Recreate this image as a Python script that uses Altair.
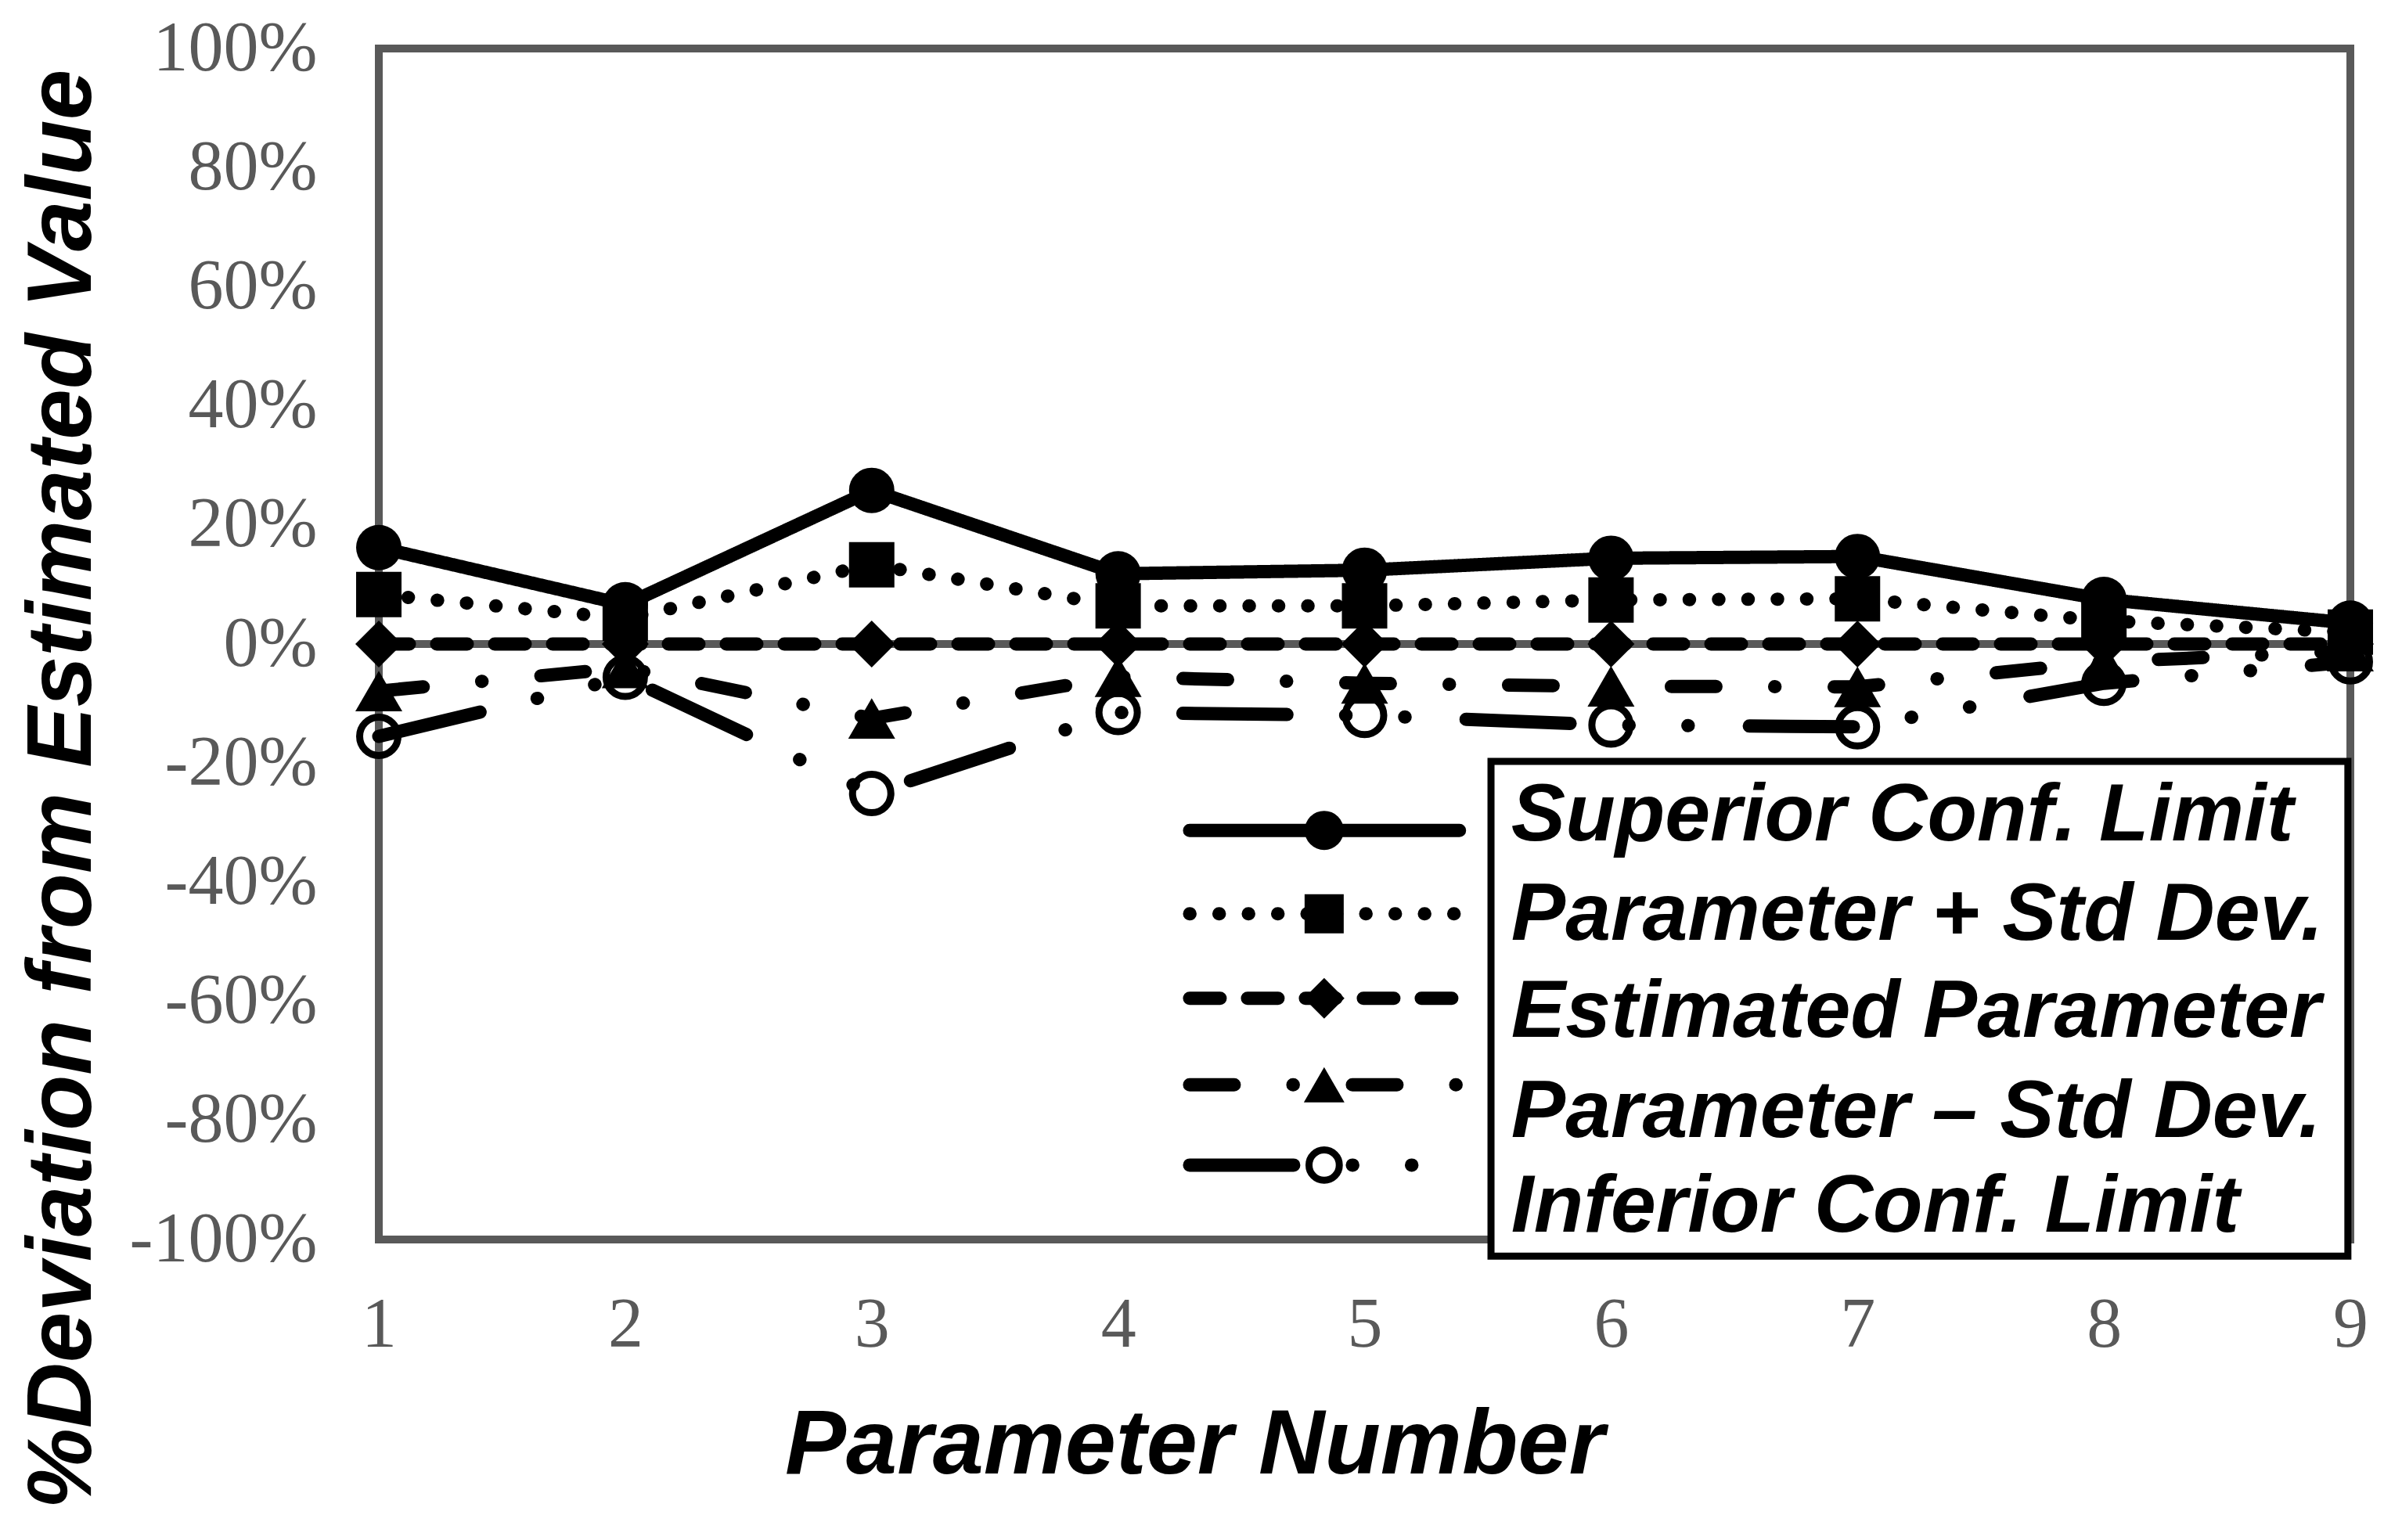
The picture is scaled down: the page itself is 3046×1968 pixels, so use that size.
import altair as alt
import pandas as pd

# ---------------- data ----------------
param_numbers = [1, 2, 3, 4, 5, 6, 7, 8, 9]
series_names = [
    "Superior Conf. Limit",
    "Parameter + Std Dev.",
    "Estimated Parameter",
    "Parameter \u2013 Std Dev.",
    "Inferior Conf. Limit",
]
superior_limit = [16.2, 6.6, 25.8, 11.8, 12.4, 14.4, 14.7, 7.5, 3.5]
param_plus_std = [8.3, 4.3, 13.3, 6.4, 6.4, 7.4, 7.6, 3.9, 2.0]
estimated_param = [0, 0, 0, 0, 0, 0, 0, 0, 0]
param_minus_std = [-7.9, -4.0, -12.5, -5.5, -6.6, -7.1, -7.2, -3.0, -1.2]
inferior_limit = [-15.5, -5.6, -25.1, -11.5, -12.0, -13.6, -13.9, -6.6, -3.0]
series_values = [superior_limit, param_plus_std, estimated_param, param_minus_std, inferior_limit]
y_tick_values = [-100, -80, -60, -40, -20, 0, 20, 40, 60, 80, 100]

# ---------------- styles ----------------
LINE_W = 17
styles = [
    dict(dash=[1, 0], shape="circle", filled=True, size=3364, lsize=2500, sw=0),
    dict(dash=[0.5, 37], shape="square", filled=True, size=3364, lsize=2500, sw=0),
    dict(dash=[39, 35], shape="diamond", filled=True, size=3600, lsize=2700, sw=0),
    dict(dash=[57, 75, 0.5, 75.5], shape="triangle-up", filled=True, size=3600, lsize=2700, sw=0),
    dict(dash=[133, 75, 0.5, 75, 0.5, 78], shape="circle", filled=False, size=2401, lsize=1500, sw=9),
]
GRAY = "#595959"

# legend layout (in data units of the plot)
LEG_SYM_X0, LEG_SYM_X1, LEG_SYM_XM = 4.29, 5.385, 4.836
LEG_SYM_Y = [-31.3, -45.3, -59.5, -74.0, -87.5]
LEG_TXT_X = 5.595
LEG_TXT_Y = [-33.0, -49.7, -66.0, -82.8, -98.7]
LEG_BOX = dict(x0=5.513, x1=8.99, y0=-19.7, y1=-102.8)

x_scale = alt.Scale(domain=[1, 9], nice=False, zero=False)
y_scale = alt.Scale(domain=[-100, 100], nice=False, zero=False)

x_axis = alt.Axis(
    values=param_numbers, format="d", title="Parameter Number", grid=False,
    ticks=False, tickSize=0, domain=False, labelFlush=False, labelOverlap=False,
    labelLimit=0,
    labelFont="Liberation Serif", labelFontSize=90, labelColor=GRAY, labelPadding=65,
    titleFont="Liberation Sans", titleFontSize=117, titleFontStyle="italic",
    titleFontWeight="bold", titleColor="black",
    titleX=1042, titleY=298, titleAlign="center", titleBaseline="alphabetic",
    titleLimit=0,
)
y_axis = alt.Axis(
    values=y_tick_values, labelExpr="datum.value + '%'",
    title="%Deviation from Estimated Value", grid=False,
    ticks=False, tickSize=0, domain=False, labelFlush=False, labelOverlap=False,
    labelLimit=0,
    labelFont="Liberation Serif", labelFontSize=90, labelColor=GRAY, labelPadding=79,
    labelBaseline="middle",
    titleFont="Liberation Sans", titleFontSize=116, titleFontStyle="italic",
    titleFontWeight="bold", titleColor="black",
    titleX=-369, titleY=946, titleAngle=270, titleAlign="center", titleBaseline="alphabetic",
    titleLimit=0,
)

layers = []

# zero line (horizontal axis crossing at 0)
zero_line = alt.Chart(pd.DataFrame({"z": [0]})).mark_rule(color=GRAY, strokeWidth=10).encode(
    y=alt.Y("z:Q", scale=y_scale, axis=y_axis)
)
layers.append(zero_line)

frames = []
for name, vals in zip(series_names, series_values):
    frames.append(pd.DataFrame({"param": param_numbers, "value": vals, "series": name}))

# lines
for df, st in zip(frames, styles):
    layers.append(
        alt.Chart(df).mark_line(
            color="black", strokeWidth=LINE_W, strokeDash=st["dash"],
            strokeCap="round", strokeJoin="round",
        ).encode(
            x=alt.X("param:Q", scale=x_scale, axis=x_axis),
            y=alt.Y("value:Q", scale=y_scale, axis=y_axis),
        )
    )

# markers
for df, st in zip(frames, styles):
    kw = dict(shape=st["shape"], size=st["size"], opacity=1)
    if st["filled"]:
        kw.update(filled=True, color="black")
    else:
        kw.update(filled=False, color="black", strokeWidth=st["sw"])
    layers.append(
        alt.Chart(df).mark_point(**kw).encode(
            x=alt.X("param:Q", scale=x_scale, axis=x_axis),
            y=alt.Y("value:Q", scale=y_scale, axis=y_axis),
        )
    )

# legend box
box_df = pd.DataFrame([LEG_BOX])
layers.append(
    alt.Chart(box_df).mark_rect(fill="white", stroke="black", strokeWidth=9).encode(
        x=alt.X("x0:Q", scale=x_scale, axis=x_axis),
        x2="x1:Q",
        y=alt.Y("y0:Q", scale=y_scale, axis=y_axis),
        y2="y1:Q",
    )
)

# legend symbols + labels
for i, (name, st) in enumerate(zip(series_names, styles)):
    ldf = pd.DataFrame({
        "x0": [LEG_SYM_X0], "x1": [LEG_SYM_X1], "xm": [LEG_SYM_XM],
        "ys": [LEG_SYM_Y[i]], "xt": [LEG_TXT_X], "yt": [LEG_TXT_Y[i]], "label": [name],
    })
    layers.append(
        alt.Chart(ldf).mark_rule(
            color="black", strokeWidth=LINE_W, strokeDash=st["dash"], strokeCap="round",
        ).encode(
            x=alt.X("x0:Q", scale=x_scale, axis=x_axis), x2="x1:Q",
            y=alt.Y("ys:Q", scale=y_scale, axis=y_axis),
        )
    )
    kw = dict(shape=st["shape"], size=st["lsize"], opacity=1)
    if st["filled"]:
        kw.update(filled=True, color="black")
    else:
        kw.update(filled=False, color="black", strokeWidth=st["sw"])
    layers.append(
        alt.Chart(ldf).mark_point(**kw).encode(
            x=alt.X("xm:Q", scale=x_scale, axis=x_axis),
            y=alt.Y("ys:Q", scale=y_scale, axis=y_axis),
        )
    )
    layers.append(
        alt.Chart(ldf).mark_text(
            align="left", baseline="alphabetic", font="Liberation Sans",
            fontSize=104, fontStyle="italic", fontWeight="bold", color="black",
        ).encode(
            x=alt.X("xt:Q", scale=x_scale, axis=x_axis),
            y=alt.Y("yt:Q", scale=y_scale, axis=y_axis),
            text="label:N",
        )
    )

chart = alt.layer(*layers).properties(
    width=2519,
    height=1522,
    padding={"left": 476, "top": 54, "right": 30, "bottom": 360},
    autosize=alt.AutoSizeParams(type="none"),
    background="white",
).configure_view(
    stroke=GRAY, strokeWidth=10,
)

chart.save("out.html", embed_options={"renderer": "svg", "actions": False})
